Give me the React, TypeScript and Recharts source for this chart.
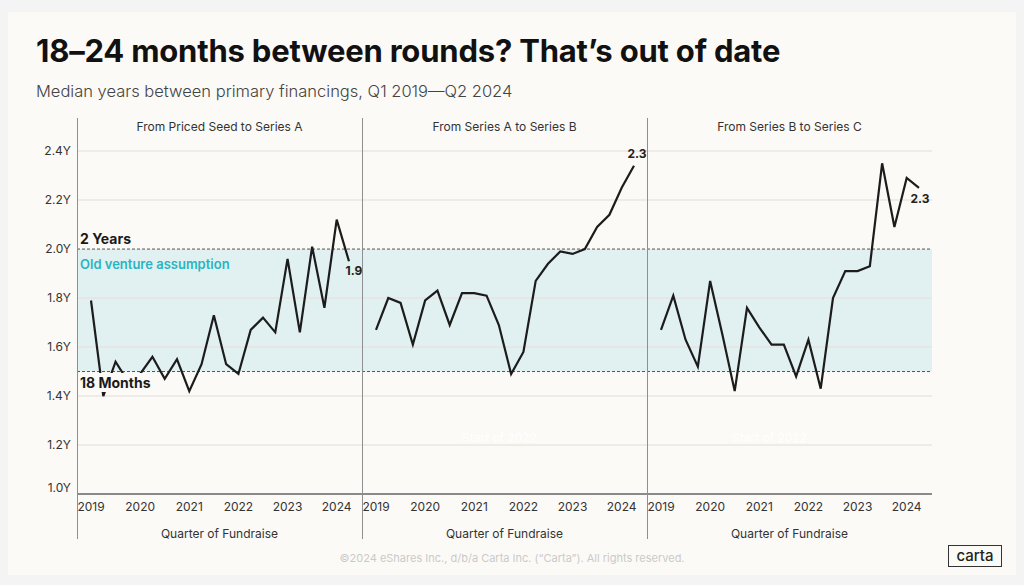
import React from "react";
import { LineChart, Line, XAxis, YAxis, ReferenceLine, ReferenceArea } from "recharts";

const QUARTERS = [
  "2019 Q1", "2019 Q2", "2019 Q3", "2019 Q4",
  "2020 Q1", "2020 Q2", "2020 Q3", "2020 Q4",
  "2021 Q1", "2021 Q2", "2021 Q3", "2021 Q4",
  "2022 Q1", "2022 Q2", "2022 Q3", "2022 Q4",
  "2023 Q1", "2023 Q2", "2023 Q3", "2023 Q4",
  "2024 Q1", "2024 Q2",
];
const YEAR_LABELS = ["2019", "2020", "2021", "2022", "2023", "2024"];

const SEED_TO_A = [1.79, 1.4, 1.54, 1.46, 1.49, 1.56, 1.47, 1.55, 1.42, 1.53, 1.73, 1.53, 1.49, 1.67, 1.72, 1.66, 1.96, 1.66, 2.01, 1.76, 2.12, 1.95];
const A_TO_B = [1.67, 1.8, 1.78, 1.61, 1.79, 1.83, 1.69, 1.82, 1.82, 1.81, 1.69, 1.49, 1.58, 1.87, 1.94, 1.99, 1.98, 2.0, 2.09, 2.14, 2.25, 2.34];
const B_TO_C = [1.67, 1.81, 1.63, 1.52, 1.87, 1.65, 1.42, 1.76, 1.68, 1.61, 1.61, 1.48, 1.63, 1.43, 1.8, 1.91, 1.91, 1.93, 2.35, 2.09, 2.29, 2.25];

const Y_TICKS = [1.0, 1.2, 1.4, 1.6, 1.8, 2.0, 2.2, 2.4];
const GRID_VALUES = [1.2, 1.4, 1.6, 1.8, 2.2, 2.4];
const BAND = [1.5, 2.0];

const PANELS = [
  { title: "From Priced Seed to Series A", values: SEED_TO_A, endLabel: "1.9", labelDx: 5, labelDy: 14 },
  { title: "From Series A to Series B", values: A_TO_B, endLabel: "2.3", labelDx: 3, labelDy: -8 },
  { title: "From Series B to Series C", values: B_TO_C, endLabel: "2.3", labelDx: 1, labelDy: 15 },
];

const FONT = "Inter, 'Noto Sans', sans-serif";
const CARD_BG = "#fcfaf6";
const CHART_TOP = 100;
const CHART_H = 450;
const X_DOMAIN = [-1.14, 22.06];
const YEAR_TICKS = YEAR_LABELS.map((y) => QUARTERS.indexOf(`${y} Q1`));

function YTick(props: any) {
  const { x, y, payload } = props;
  const dy = payload.value === 1 ? -6 : 0;
  return (
    <text x={x} y={y + dy} dy="0.35em" textAnchor="end" fontSize={12} fill="#333" fontFamily={FONT}>
      {payload.value.toFixed(1)}Y
    </text>
  );
}

function Panel({ idx, left, width }: { idx: number; left: number; width: number }) {
  const p = PANELS[idx];
  const data = QUARTERS.map((q, i) => ({ q, i, v: p.values[i] }));
  const last = data.length - 1;
  const showY = idx === 0;
  return (
    <div style={{ position: "absolute", left, top: CHART_TOP }}>
      <LineChart width={width} height={CHART_H} data={data} margin={{ top: 18, right: 0, bottom: 0, left: 0 }}>
        <XAxis
          dataKey="i"
          type="number"
          domain={X_DOMAIN}
          ticks={YEAR_TICKS}
          allowDataOverflow
          interval={0}
          height={56}
          tickLine={false}
          tickSize={0}
          tickMargin={8}
          axisLine={{ stroke: "#8a8a8a", strokeWidth: 2 }}
          tick={{ fontSize: 12, fill: "#333", fontFamily: FONT }}
          tickFormatter={(v: number) => QUARTERS[v].slice(0, 4)}
          label={{ value: "Quarter of Fundraise", position: "insideBottom", offset: 12, fontSize: 12, fill: "#333", fontFamily: FONT }}
        />
        <YAxis
          type="number"
          domain={[1, 2.535]}
          ticks={Y_TICKS}
          allowDataOverflow
          hide={!showY}
          width={showY ? 47 : 0}
          axisLine={false}
          tickLine={false}
          tickSize={0}
          tickMargin={6}
          tick={<YTick />}
        />
        <ReferenceArea y1={BAND[0]} y2={BAND[1]} fill="#e1f0f1" fillOpacity={1} stroke="none" />
        {GRID_VALUES.map((g) => (
          <ReferenceLine key={g} y={g} stroke="#e6e2dc" strokeOpacity={0.8} strokeWidth={1.5} />
        ))}
        {BAND.map((b) => (
          <ReferenceLine key={"b" + b} y={b} stroke="#555" strokeDasharray="3 2" strokeWidth={1} />
        ))}
        <Line
          dataKey="v"
          type="linear"
          stroke="#1c1c1c"
          strokeWidth={2.2}
          dot={false}
          activeDot={false}
          isAnimationActive={false}
          label={(lp: any) =>
            lp.index === last ? (
              <text
                key="end"
                x={lp.x + p.labelDx}
                y={lp.y + p.labelDy}
                textAnchor="middle"
                fontSize={12}
                fontWeight={700}
                fill="#222"
                fontFamily={FONT}
              >
                {p.endLabel}
              </text>
            ) : (
              <g key={"n" + lp.index} />
            )
          }
        />
      </LineChart>
    </div>
  );
}

const PANEL_EDGES = [77, 362, 647, 932];

export default function App() {
  return (
    <div style={{ position: "absolute", left: 0, top: 0, width: 1024, height: 585, background: "#f4f4f4", fontFamily: FONT, overflow: "hidden" }}>
      <div style={{ position: "absolute", left: 8, top: 12, width: 1008, height: 563, background: CARD_BG }} />
      <div style={{ position: "absolute", left: 36, top: 32, fontSize: 31, fontWeight: 700, color: "#111", letterSpacing: -0.2, whiteSpace: "nowrap" }}>
        18–24 months between rounds? That’s out of date
      </div>
      <div style={{ position: "absolute", left: 36, top: 81, fontSize: 16.5, fontWeight: 300, color: "#444", whiteSpace: "nowrap" }}>
        Median years between primary financings, Q1 2019—Q2 2024
      </div>

      <Panel idx={0} left={30} width={332} />
      <Panel idx={1} left={362} width={285} />
      <Panel idx={2} left={647} width={285} />

      {PANEL_EDGES.slice(0, 3).map((x) => (
        <div key={x} style={{ position: "absolute", left: x - 0.5, top: 118, width: 1.3, height: 421, background: "#8f8f8f" }} />
      ))}
      {PANELS.map((p, i) => (
        <div
          key={p.title}
          style={{ position: "absolute", left: PANEL_EDGES[i], width: PANEL_EDGES[i + 1] - PANEL_EDGES[i], top: 119, textAlign: "center", fontSize: 12, color: "#333" }}
        >
          {p.title}
        </div>
      ))}

      <div style={{ position: "absolute", left: 80, top: 230, fontSize: 14, fontWeight: 700, color: "#1a1a1a" }}>2 Years</div>
      <div style={{ position: "absolute", left: 80, top: 256, fontSize: 13, fontWeight: 600, color: "#2ab4c2" }}>Old venture assumption</div>
      <div style={{ position: "absolute", left: 79, top: 373, padding: "0 1px", height: 19, lineHeight: "19px", background: CARD_BG, fontSize: 14, fontWeight: 700, color: "#1a1a1a" }}>
        18 Months
      </div>

      <div style={{ position: "absolute", left: 462, top: 430, fontSize: 12, color: "#ffffff" }}>Start of 2022</div>
      <div style={{ position: "absolute", left: 732, top: 430, fontSize: 12, color: "#ffffff" }}>Start of 2022</div>

      <div style={{ position: "absolute", left: 0, width: 1024, top: 551, textAlign: "center", fontSize: 11, color: "#cacaca" }}>
        ©2024 eShares Inc., d/b/a Carta Inc. (“Carta”). All rights reserved.
      </div>
      <div
        style={{ position: "absolute", left: 948, top: 545, width: 54, height: 22, border: "1.5px solid #333", boxSizing: "border-box", textAlign: "center", lineHeight: "19px", fontSize: 15, fontWeight: 500, color: "#222" }}
      >
        carta
      </div>
    </div>
  );
}
